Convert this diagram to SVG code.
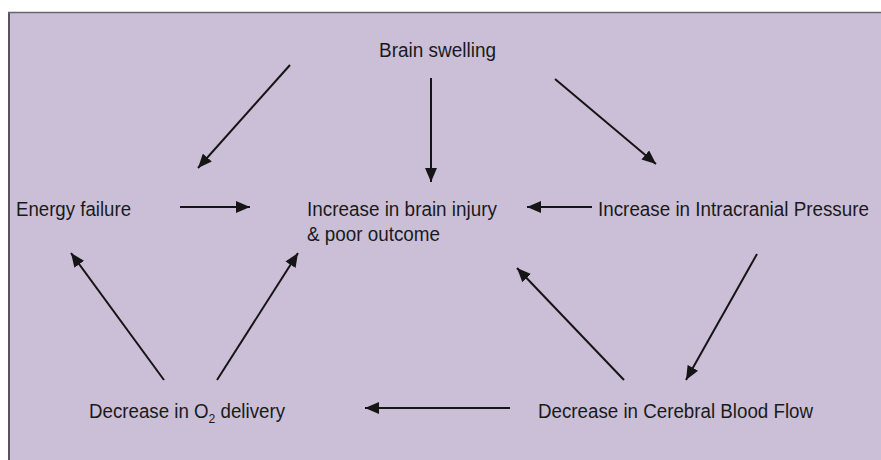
<svg xmlns="http://www.w3.org/2000/svg" width="881" height="460" viewBox="0 0 881 460">
<defs>
<style>
.t{font-family:"Liberation Sans",Arial,sans-serif;font-size:20px;fill:#1a1a1a}
.c line{stroke:#151515;stroke-width:2;marker-end:url(#ah)}
</style>
<marker id="ah" markerUnits="userSpaceOnUse" markerWidth="16" markerHeight="12" refX="14" refY="6" orient="auto">
<path d="M0,0 L14,6 L0,12 Z" fill="#151515"/>
</marker>
</defs>
<rect x="0" y="0" width="881" height="460" fill="#ffffff"/>
<rect x="8" y="12" width="880" height="460" fill="#cbbfd8"/>
<line x1="9" y1="12" x2="9" y2="460" stroke="#5a5462" stroke-width="2"/>
<line x1="8" y1="12.5" x2="881" y2="12.5" stroke="#6a6472" stroke-width="1.5"/>
<g id="brain-swelling"><text class="t" x="379" y="57" textLength="117" lengthAdjust="spacingAndGlyphs">Brain swelling</text></g>
<g id="energy-failure"><text class="t" x="16" y="216" textLength="115" lengthAdjust="spacingAndGlyphs">Energy failure</text></g>
<g id="brain-injury"><text class="t" x="307" y="216" textLength="190" lengthAdjust="spacingAndGlyphs">Increase in brain injury</text><text class="t" x="307" y="241" textLength="133" lengthAdjust="spacingAndGlyphs">&amp; poor outcome</text></g>
<g id="icp"><text class="t" x="598" y="216" textLength="271" lengthAdjust="spacingAndGlyphs">Increase in Intracranial Pressure</text></g>
<g id="o2"><text class="t" x="89" y="418" textLength="196" lengthAdjust="spacingAndGlyphs">Decrease in O<tspan font-size="13" dy="5">2</tspan><tspan dy="-5"> delivery</tspan></text></g>
<g id="cbf"><text class="t" x="538" y="418" textLength="275" lengthAdjust="spacingAndGlyphs">Decrease in Cerebral Blood Flow</text></g>
<g id="connectors" class="c">
<line x1="290" y1="65" x2="198" y2="168"/>
<line x1="431" y1="78" x2="431" y2="182"/>
<line x1="555" y1="79" x2="656" y2="164"/>
<line x1="180" y1="207" x2="250" y2="207"/>
<line x1="592" y1="207" x2="527" y2="207"/>
<line x1="757" y1="254" x2="686" y2="380"/>
<line x1="624" y1="380" x2="517" y2="268"/>
<line x1="164" y1="380" x2="71" y2="253"/>
<line x1="217" y1="380" x2="298" y2="253"/>
<line x1="510" y1="408" x2="365" y2="408"/>
</g>
</svg>
